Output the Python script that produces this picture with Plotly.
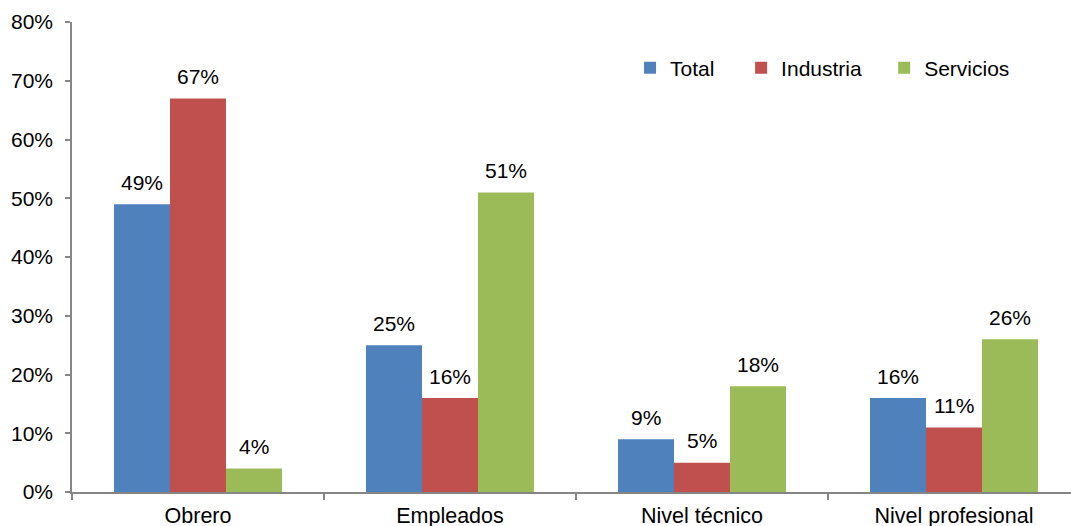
import plotly.graph_objects as go

categories = ["Obrero", "Empleados", "Nivel técnico", "Nivel profesional"]
total = [49, 25, 9, 16]
industria = [67, 16, 5, 11]
servicios = [4, 51, 18, 26]
series_names = ["Total", "Industria", "Servicios"]
colors = ["#4F81BD", "#C0504D", "#9BBB59"]
y_ticks = [0, 10, 20, 30, 40, 50, 60, 70, 80]

FONT = "Liberation Sans, Arial, sans-serif"
FS = 21
W, H = 1071, 526
ML, MR, MT, MB = 72, 0, 22, 34
plot_w = W - ML - MR
cat_w = 252.0
x_max = -0.5 + plot_w / cat_w
bar_w = cat_w * (1 - 1/3) / 3

fig = go.Figure()
series = [total, industria, servicios]
pads = ["\u00a0" * 3 + "\u2009", "\u00a0" * 3, ""]
for name, vals, col, p in zip(series_names, series, colors, pads):
    fig.add_trace(go.Bar(x=categories, y=vals, name=name + p,
                         marker=dict(color=col, line=dict(width=0))))

annotations = []
for si, vals in enumerate(series):
    for ci, v in enumerate(vals):
        annotations.append(dict(
            x=categories[ci], y=v, xref="x", yref="y",
            text=f"{v}%", showarrow=False,
            xshift=(si - 1) * bar_w, yshift=22, yanchor="middle",
            font=dict(family=FONT, size=FS, color="#000000"),
        ))

fig.update_layout(
    width=W, height=H,
    margin=dict(l=ML, r=MR, t=MT, b=MB, pad=0, autoexpand=False),
    paper_bgcolor="white", plot_bgcolor="white",
    barmode="group", bargap=1/3, bargroupgap=0,
    font=dict(family=FONT, size=FS, color="#000000"),
    annotations=annotations,
    showlegend=True,
    legend=dict(orientation="h", x=0.5586, y=0.902, xanchor="left", yanchor="middle",
                font=dict(family=FONT, size=FS, color="#000000"),
                bgcolor="rgba(0,0,0,0)", itemwidth=30, traceorder="normal"),
)
fig.update_xaxes(
    type="category", range=[-0.5, x_max], automargin=False,
    showline=True, linecolor="#868686", linewidth=1.5,
    ticks="outside", tickson="boundaries", ticklen=6, tickcolor="#868686", tickwidth=1.5,
    showgrid=False, zeroline=False, ticklabelstandoff=3,
    tickfont=dict(family=FONT, size=21.5, color="#000000"),
)
fig.update_yaxes(
    range=[0, 80], tickvals=y_ticks, ticktext=[f"{t}%" for t in y_ticks], automargin=False,
    showline=True, linecolor="#868686", linewidth=1.5,
    ticks="outside", ticklen=5, tickcolor="#868686", tickwidth=1.5,
    showgrid=False, zeroline=False, ticklabelstandoff=8,
    tickfont=dict(family=FONT, size=FS, color="#000000"),
)

fig.write_html(
    "out.html",
    config={"displayModeBar": False},
    post_script="document.body.style.margin='0';document.body.style.overflow='hidden';",
)
